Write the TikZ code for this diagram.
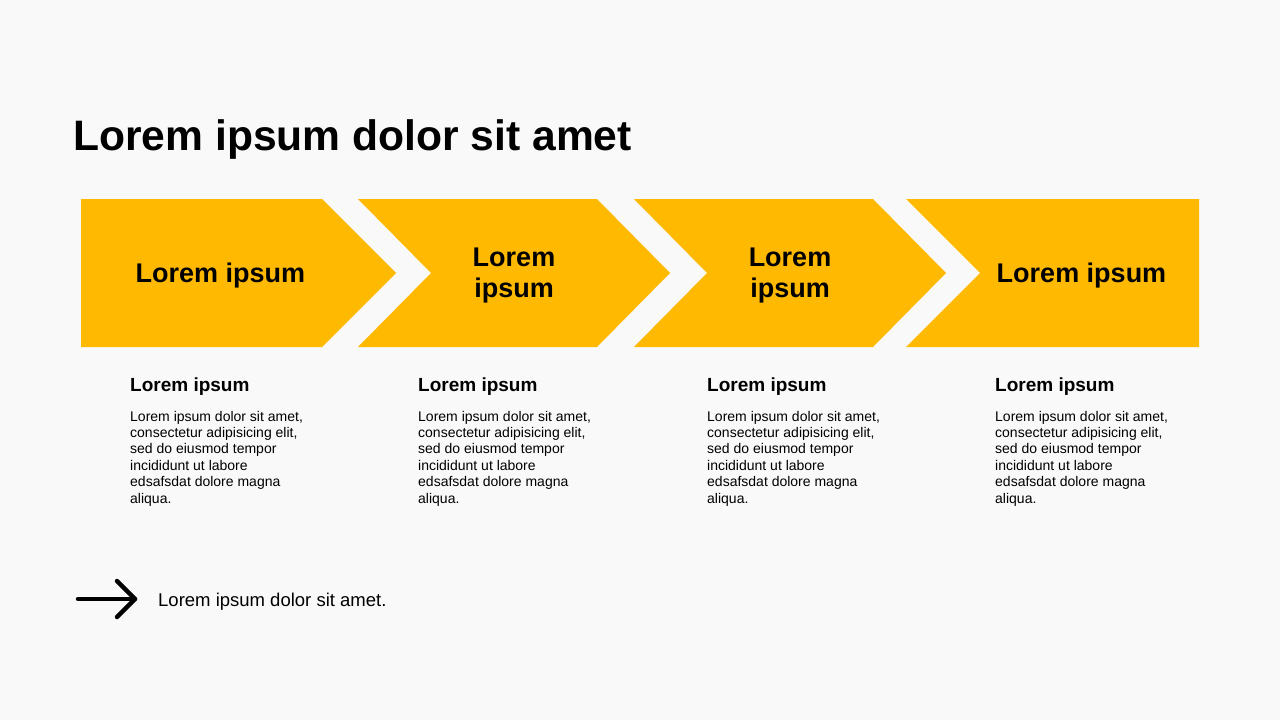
\documentclass[tikz,border=0pt]{standalone}
\usepackage{fontspec}
\setmainfont{Liberation Sans}
\definecolor{bgc}{RGB}{249,249,249}
\definecolor{amber}{RGB}{255,185,0}
\begin{document}
\begin{tikzpicture}[x=1pt,y=-1pt,
  chev/.style={fill=amber,draw=none},
  chevlabel/.style={font=\bfseries\fontsize{27}{31}\selectfont,align=center,inner sep=0pt,anchor=center},
  headtxt/.style={font=\bfseries\fontsize{19}{22}\selectfont,inner sep=0pt,anchor=base west},
  bodytxt/.style={font=\fontsize{14}{16.4}\selectfont,align=left,inner sep=0pt,anchor=north west},
  arrowline/.style={line width=4.5pt,line cap=round,line join=round}]
\fill[bgc] (0,0) rectangle (1280,720);
\useasboundingbox (0,0) rectangle (1280,720);
% title
\node[font=\bfseries\fontsize{42.6}{48}\selectfont,inner sep=0pt,anchor=base west] (title) at (73,150) {Lorem ipsum dolor sit amet};
% chevrons
\fill[chev] (81,199) -- (322,199) -- (396,273) -- (322,347) -- (81,347) -- cycle;
\fill[chev] (358,199) -- (597,199) -- (670,273) -- (597,347) -- (358,347) -- (431,273) -- cycle;
\fill[chev] (634,199) -- (873,199) -- (946,273) -- (873,347) -- (634,347) -- (707,273) -- cycle;
\fill[chev] (906,199) -- (1199,199) -- (1199,347) -- (906,347) -- (980,273) -- cycle;
\node[chevlabel] (c1) at (220.5,276) {Lorem ipsum};
\node[chevlabel] (c2) at (514,276) {Lorem\\ipsum};
\node[chevlabel] (c3) at (790,276) {Lorem\\ipsum};
\node[chevlabel] (c4) at (1081.5,276) {Lorem ipsum};
% descriptions
\foreach \i/\x in {1/130,2/418,3/707,4/995}{
  \node[headtxt] (h\i) at (\x,391) {Lorem ipsum};
  \node[bodytxt] (b\i) at (\x,410.8) {Lorem ipsum dolor sit amet,\\consectetur adipisicing elit,\\sed do eiusmod tempor\\incididunt ut labore\\edsafsdat dolore magna\\aliqua.};
}
% footer arrow
\coordinate (as) at (78,599);
\coordinate (ae) at (135,599);
\coordinate (at1) at (117,581);
\coordinate (at2) at (117,617);
\draw[arrowline] (as) -- (ae);
\draw[arrowline] (at1) -- (ae) -- (at2);
\node[font=\fontsize{18.5}{22}\selectfont,inner sep=0pt,anchor=base west] (foot) at (158,606) {Lorem ipsum dolor sit amet.};
\end{tikzpicture}
\end{document}
